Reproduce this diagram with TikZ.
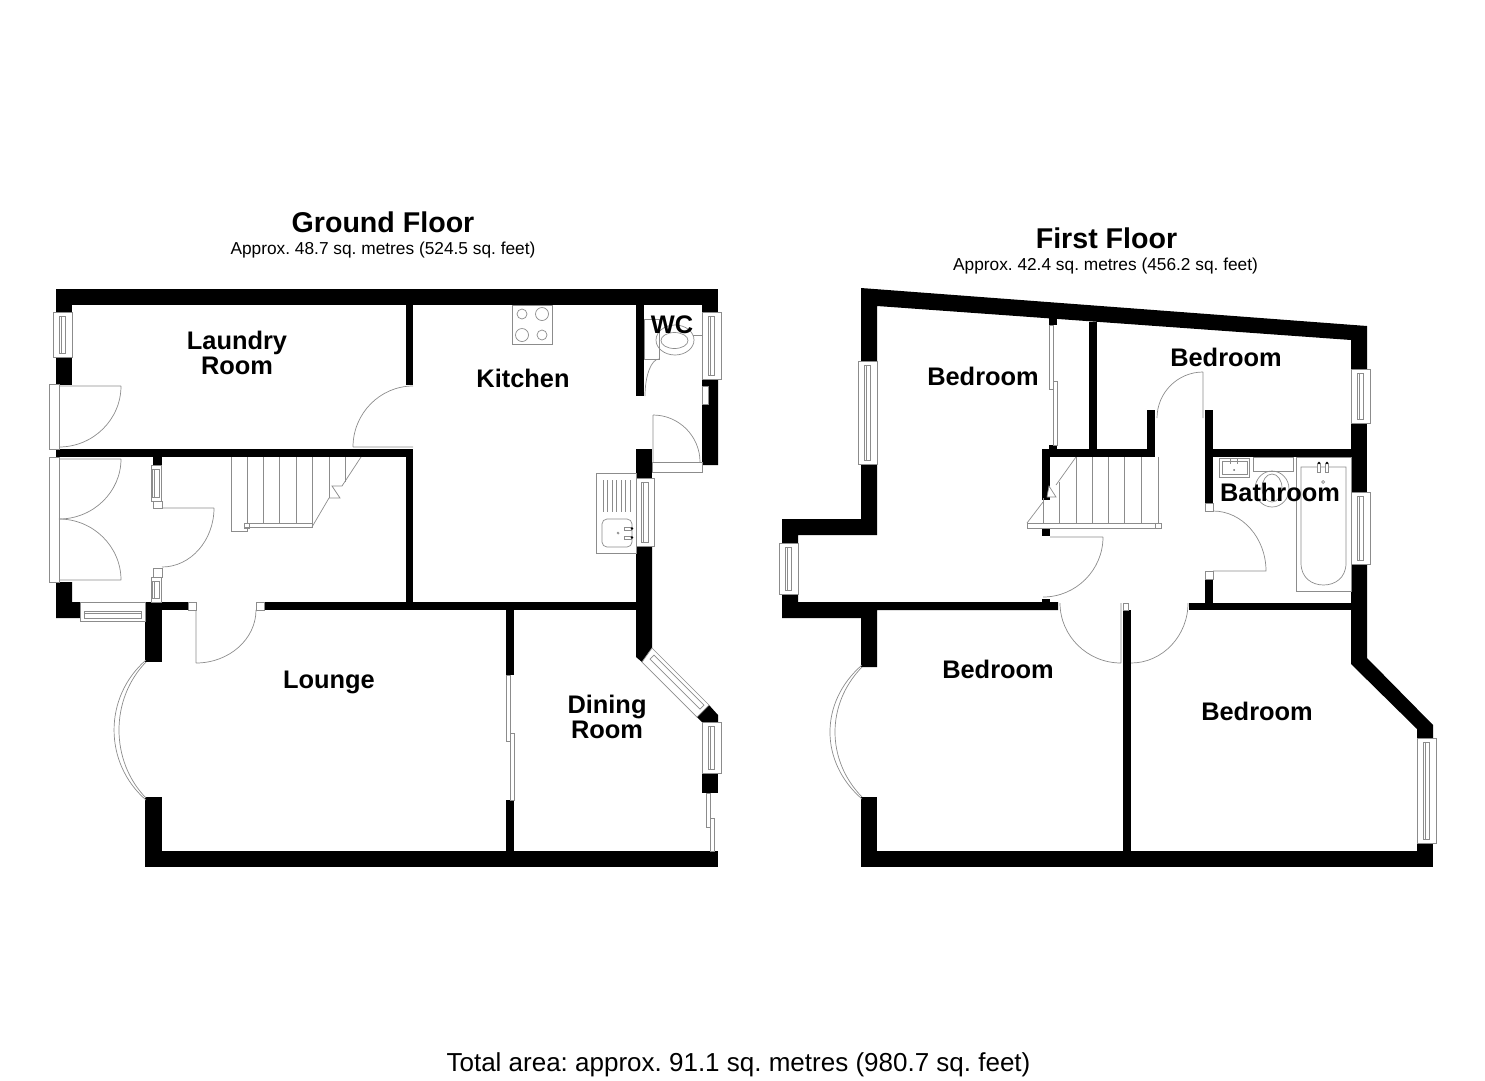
\documentclass[tikz,border=0pt]{standalone}
\usepackage{fontspec}
\setmainfont{Liberation Sans}
\usepackage{tikz}
\usetikzlibrary{positioning,calc}
\frenchspacing

\newcommand{\swing}[3]{(#1) .. controls ($(#1)!0.55!(#3)$) and ($(#2)!0.55!(#3)$) .. (#2)}
% upright window: x1,y1,x2,y2
\newcommand{\winup}[4]{
    \draw[fitting, fill=white] (#1,#2) rectangle (#3,#4);
    \draw[fitting] ({(#1+#3)/2-3.5},{#2+4}) rectangle ({(#1+#3)/2+3},{#4-4});
    \draw[fitting] ({(#1+#3)/2-1.5},{#2+4}) -- ({(#1+#3)/2-1.5},{#4-4});
}

\begin{document}
\begin{tikzpicture}[
    x=1pt, y=-1pt,
    node distance = 5pt and 5pt,% for distance between nodes
       wall/.style = {fill=black},
    fitting/.style = {draw=black!45, line width=0.7pt},
      title/.style = {font=\bfseries\fontsize{28.6}{30}\selectfont, inner sep=0pt},
       area/.style = {font=\fontsize{17.3}{18}\selectfont, inner sep=0pt},
       room/.style = {font=\bfseries\fontsize{25.4}{25.5}\selectfont, align=center, inner sep=0pt}
    ]
    \useasboundingbox (0,0) rectangle (1485,1080);

    % ground floor walls
    \fill[wall] (56,289) rectangle (718,305);
    \fill[wall] (56,305) rectangle (72,312);
    \fill[wall] (56,357) rectangle (72,385);
    \fill[wall] (56,449) rectangle (413,457);
    \fill[wall] (406,305) rectangle (413,385);
    \fill[wall] (406,457) rectangle (413,602);
    \fill[wall] (56,582) -- (72,582) -- (72,602) -- (80,602) -- (80,618) -- (56,618) -- cycle;
    \fill[wall] (145,602) rectangle (162,662);
    \fill[wall] (162,602) rectangle (188,610);
    \fill[wall] (264,602) rectangle (636,610);
    \fill[wall] (153,457) rectangle (162,465);
    \fill[wall] (506,610) rectangle (514,675);
    \fill[wall] (506,800) rectangle (514,851);
    \fill[wall] (145,797) rectangle (162,851);
    \fill[wall] (145,851) rectangle (718,867);
    \fill[wall] (636,305) rectangle (644,396);
    \fill[wall] (702,305) rectangle (718,312);
    \fill[wall] (702,379) -- (718,379) -- (718,465) -- (702,465) -- (702,404) -- (708,404) -- (708,386) -- (702,386) -- cycle;
    \fill[wall] (636,449) rectangle (652,478);
    \fill[wall] (636,546) -- (652,546) -- (652,648) -- (642,662) -- (636,657) -- cycle;
    \fill[wall] (697,717) -- (709,705) -- (718,715) -- (718,722) -- (702,722) -- cycle;
    \fill[wall] (702,773) rectangle (718,793);

    % ground floor doors
    \draw[fitting] (49,384) rectangle (59,449);
    \draw[fitting] (59,386) -- (121,386) \swing{121,386}{59,447}{121,447};
    \draw[fitting] (49,457) rectangle (59,582);
    \draw[fitting] (59,459) -- (121,459) \swing{121,459}{59,519}{121,519};
    \draw[fitting] (59,580) -- (121,580) \swing{121,580}{59,519}{121,519};
    \draw[fitting] (413,447) -- (353,447) \swing{353,447}{413,386}{353,386};
    \draw[fitting] (153,501) rectangle (162,508);
    \draw[fitting] (153,568) rectangle (162,577);
    \draw[fitting] (162,508) -- (214,508) \swing{214,508}{162,567}{214,567};
    \draw[fitting] (188,602) rectangle (196,610);
    \draw[fitting] (256,602) rectangle (264,610);
    \draw[fitting] (196,610) -- (196,663) \swing{196,663}{256,610}{256,663};
    \draw[fitting] (652,462) rectangle (702,472);
    \draw[fitting] (653,462) -- (653,415) \swing{653,415}{700,462}{700,415};
    \draw[fitting] (645,396) \swing{645,396}{659,359}{645,359};
    \draw[fitting] (702,386) rectangle (708,404);
    \draw[fitting] (506,675) rectangle (510,741);
    \draw[fitting] (510,733) rectangle (514,800);
    \draw[fitting] (706,793) rectangle (710,827);
    \draw[fitting] (710,818) rectangle (714,851);

    % ground floor windows
    \winup{53}{312}{72}{357}
    \winup{151}{465}{161}{501}
    \winup{151}{577}{161}{602}
    \winup{702}{312}{721}{379}
    \winup{636}{478}{654}{546}
    \winup{702}{722}{721}{773}
    \draw[fitting, fill=white] (80,602) rectangle (145,621);
    \draw[fitting] (84,611) rectangle (141,618);
    \draw[fitting] (84,613) -- (141,613);
    \draw[fitting, fill=white] (652,648) -- (709,705) -- (697,717) -- (642,662) -- cycle;
    \draw[fitting] (654,655) -- (704,705) -- (700,709) -- (650,659) -- cycle;
    \draw[fitting] (146,660) .. controls (103.4,697) and (103.4,763) .. (146,800);
    \draw[fitting] (146,662) .. controls (110,699) and (110,761) .. (146,798);

    % ground floor stairs
    \draw[fitting] (231,457) -- (231,531) -- (247,531) -- (247,527);
    \draw[fitting] (244,523) rectangle (312,527);
    \draw[fitting] (244,523) rectangle (249,528);
    \foreach \stepx in {247,263,279,296,312} {
        \draw[fitting] (\stepx,457) -- (\stepx,523);
    }
    \draw[fitting] (329,457) -- (329,498);
    \draw[fitting] (345,457) -- (345,482);
    \draw[fitting] (312,527) -- (329,498) -- (340,498) -- (332,486) -- (342,486) -- (361,457);

    % kitchen and wc fittings
    \draw[fitting] (512,305) rectangle (552,344);
    \draw[fitting] (522,314) circle (5);
    \draw[fitting] (542,314) circle (6.5);
    \draw[fitting] (522,335) circle (6.5);
    \draw[fitting] (542,335) circle (5);
    \draw[fitting] (596,473) rectangle (636,553);
    \foreach \grooveX in {603,607.5,612,616.5,621,625.5,630} {
        \draw[fitting] (\grooveX,480) -- (\grooveX,512);
    }
    \draw[fitting, rounded corners=5pt] (602,519) rectangle (632,547);
    \draw[fitting, fill=white] (624,527) rectangle (631,530);
    \draw[fitting, fill=white] (624,536) rectangle (631,539);
    \fill (632,528.5) circle (1.3) (632,537.5) circle (1.3);
    \draw[fitting] (618,533) circle (1);
    \draw[fitting] (644,319) rectangle (659,359);
    \draw[fitting] (675,340) ellipse (19 and 15);
    \draw[fitting] (674.5,340.5) ellipse (13.5 and 8);
    \draw[fitting] (693,335) -- (702,335);

    % first floor walls
    \fill[wall] (861,288) -- (1367,326) -- (1367,369) -- (1351,369) -- (1351,340) -- (877,306) -- (877,361) -- (861,361) -- cycle;
    \fill[wall] (861,464) -- (877,464) -- (877,535) -- (798,535) -- (798,543) -- (782,543) -- (782,519) -- (861,519) -- cycle;
    \fill[wall] (782,594) -- (798,594) -- (798,602) -- (1058,602) -- (1058,610) -- (877,610) -- (877,667) -- (861,667) -- (861,618) -- (782,618) -- cycle;
    \fill[wall] (861,797) rectangle (877,851);
    \fill[wall] (861,851) rectangle (1433,867);
    \fill[wall] (1049,318) rectangle (1057,325);
    \fill[wall] (1049,445) rectangle (1057,449);
    \fill[wall] (1042,449) rectangle (1155,457);
    \fill[wall] (1042,457) rectangle (1050,500);
    \fill[wall] (1042,528) rectangle (1050,536);
    \fill[wall] (1089,322) rectangle (1097,449);
    \fill[wall] (1147,410) rectangle (1155,449);
    \fill[wall] (1205,410) rectangle (1213,503);
    \fill[wall] (1205,579) rectangle (1213,603);
    \fill[wall] (1213,449) rectangle (1351,457);
    \fill[wall] (1189,603) rectangle (1351,610);
    \fill[wall] (1123,610) rectangle (1131,851);
    \fill[wall] (1351,423) rectangle (1367,492);
    \fill[wall] (1351,564) -- (1367,564) -- (1367,658) -- (1433,725) -- (1433,738) -- (1417,738) -- (1417,729) -- (1351,664) -- cycle;
    \fill[wall] (1417,843) rectangle (1433,851);

    % first floor windows
    \winup{858}{361}{877}{464}
    \winup{779}{543}{798}{594}
    \winup{1351}{369}{1370}{423}
    \winup{1351}{492}{1370}{564}
    \winup{1417}{738}{1436}{843}
    \draw[fitting] (862,665) .. controls (819.3,702) and (819.3,762) .. (862,799);
    \draw[fitting] (862,667) .. controls (826,704) and (826,760) .. (862,797);

    % first floor doors
    \draw[fitting] (1049,325) rectangle (1053,389);
    \draw[fitting] (1053,381) rectangle (1057,445);
    \draw[fitting] (1050,537) -- (1103,537) \swing{1103,537}{1043,597}{1103,597};
    \fill[wall] (1042,599) rectangle (1050,602);
    \draw[fitting] (1121,603) -- (1121,663) \swing{1121,663}{1060,603}{1060,663};
    \draw[fitting] (1131,663) \swing{1131,663}{1188,603}{1188,663};
    \draw[fitting] (1123,603) rectangle (1128,610);
    \draw[fitting] (1203,418) -- (1203,372) \swing{1203,372}{1157,418}{1157,372};
    \draw[fitting] (1205,503) rectangle (1213,511);
    \draw[fitting] (1205,571) rectangle (1213,579);
    \draw[fitting] (1213,511) \swing{1213,511}{1266,571}{1266,511} -- (1213,571);

    % first floor stairs
    \draw[fitting, fill=white] (1027,523) rectangle (1161,528);
    \draw[fitting] (1155,523) rectangle (1161,528);
    \foreach \stepx in {1076,1092,1108,1124,1141,1158} {
        \draw[fitting] (\stepx,457) -- (\stepx,523);
    }
    \draw[fitting] (1059,482) -- (1059,523);
    \draw[fitting] (1043,498) -- (1043,523);
    \draw[fitting, fill=white] (1049,486) -- (1056,497) -- (1047,497) -- cycle;
    \draw[fitting] (1076,457) -- (1056,485) (1043,502) -- (1027,523);

    % bathroom fittings
    \draw[fitting] (1219,458) rectangle (1249,477);
    \draw[fitting] (1222,461) rectangle (1247,474);
    \draw[fitting] (1230,458) -- (1230,464) (1237,458) -- (1237,464);
    \fill[black!60] (1234,470) circle (1);
    \draw[fitting] (1253,457) rectangle (1293,471);
    \draw[fitting] (1272,489) ellipse (17 and 18);
    \draw[fitting] (1272,488) ellipse (10 and 14);
    \draw[fitting] (1296,457) rectangle (1351,591);
    \draw[fitting] (1301,467) -- (1346,467) -- (1346,563) .. controls (1346,578) and (1335,585) .. (1323.5,585) .. controls (1312,585) and (1301,578) .. (1301,563) -- cycle;
    \draw[fitting, fill=white] (1317.5,463) rectangle (1320.5,472);
    \draw[fitting, fill=white] (1325.5,463) rectangle (1328.5,472);
    \fill (1319,463) circle (1.3) (1327,463) circle (1.3);
    \draw[fitting] (1323,482) circle (1.5);

    % labels
    \node (ground) [title] at (383,222.5) {Ground Floor};
    \node (groundarea) [area] at (383,250) {Approx. 48.7 sq. metres (524.5 sq. feet)};
    \node (first) [title] at (1106.5,238.5) {First Floor};
    \node (firstarea) [area] at (1105.5,266) {Approx. 42.4 sq. metres (456.2 sq. feet)};
    \node (laundry) [room] at (237,353) {Laundry\\Room};
    \node (kitchen) [room] at (523,378) {Kitchen};
    \node (wc) [room] at (672,325) {WC};
    \node (lounge) [room] at (329,682) {Lounge};
    \node (dining) [room] at (607,717) {Dining\\Room};
    \node (bedroomw) [room] at (983,376) {Bedroom};
    \node (bedroomn) [room] at (1226,357) {Bedroom};
    \node (bathroom) [room] at (1280,492) {Bathroom};
    \node (bedrooms) [room] at (998,669) {Bedroom};
    \node (bedroome) [room] at (1257,711) {Bedroom};
    \node (total) [font=\fontsize{26}{27}\selectfont, inner sep=0pt] at (738.5,1065) {Total area: approx. 91.1 sq. metres (980.7 sq. feet)};
\end{tikzpicture}
\end{document}
